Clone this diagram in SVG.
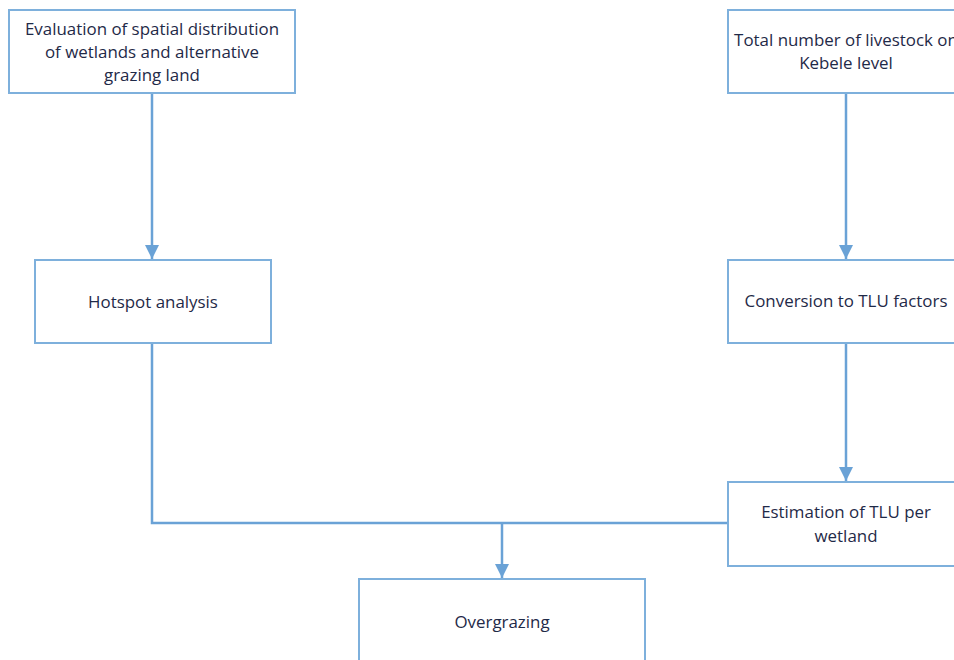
<svg xmlns="http://www.w3.org/2000/svg" width="954" height="660" viewBox="0 0 954 660">
<style>
.box{fill:#ffffff;stroke:#7eb0dc;stroke-width:2}
.lbl{font-family:"Open Sans","Noto Sans",sans-serif;font-size:16.9px;fill:#1f2a48;text-anchor:middle}
.con{fill:none;stroke:#6aa2d6;stroke-width:2.5}
</style>
<defs>
<marker id="ah" viewBox="0 0 14 14" refX="14" refY="7" markerWidth="14" markerHeight="14" markerUnits="userSpaceOnUse" orient="auto">
<path d="M0,0 L14,7 L0,14 Z" fill="#6aa2d6"/>
</marker>
</defs>
<rect width="954" height="660" fill="#ffffff"/>
<g id="connectors">
<line class="con" x1="152" y1="94" x2="152" y2="259" marker-end="url(#ah)"/>
<line class="con" x1="846" y1="94" x2="846" y2="259" marker-end="url(#ah)"/>
<line class="con" x1="846" y1="344" x2="846" y2="481" marker-end="url(#ah)"/>
<polyline class="con" points="152,344 152,523 728,523"/>
<line class="con" x1="502" y1="523" x2="502" y2="578" marker-end="url(#ah)"/>
</g>
<g id="n1">
<rect class="box" x="9" y="10" width="286" height="83"/>
<text class="lbl" x="152" y="35">Evaluation of spatial distribution</text>
<text class="lbl" x="152" y="58">of wetlands and alternative</text>
<text class="lbl" x="152" y="81">grazing land</text>
</g>
<g id="n2">
<rect class="box" x="728" y="10" width="240" height="83"/>
<text class="lbl" x="846" y="46">Total number of livestock on</text>
<text class="lbl" x="846" y="69">Kebele level</text>
</g>
<g id="n3">
<rect class="box" x="35" y="260" width="236" height="83"/>
<text class="lbl" x="153" y="308">Hotspot analysis</text>
</g>
<g id="n4">
<rect class="box" x="728" y="260" width="240" height="83"/>
<text class="lbl" x="846" y="307">Conversion to TLU factors</text>
</g>
<g id="n5">
<rect class="box" x="728" y="482" width="240" height="84"/>
<text class="lbl" x="846" y="518">Estimation of TLU per</text>
<text class="lbl" x="846" y="542">wetland</text>
</g>
<g id="n6">
<rect class="box" x="359" y="579" width="286" height="90"/>
<text class="lbl" x="502" y="628">Overgrazing</text>
</g>
</svg>
